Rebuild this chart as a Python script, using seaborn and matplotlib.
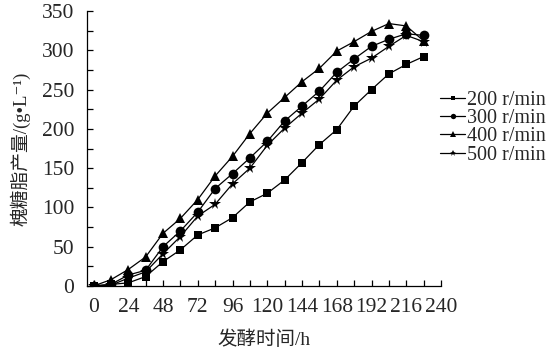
import matplotlib

matplotlib.use("Agg")
import matplotlib.pyplot as plt
import numpy as np
import pandas as pd
import seaborn as sns

# fermentation time (h)
hours = [0, 12, 24, 36, 48, 60, 72, 84, 96, 108, 120, 132, 144, 156, 168, 180, 192, 204, 216, 228]

# sophorolipid yield (g/L) at each agitation speed
yield_200 = [0, 2, 4, 12, 31, 46, 65, 74, 87, 107, 118, 135, 157, 180, 199, 229, 250, 270, 282, 292]
yield_300 = [0, 2, 14, 20, 50, 70, 94, 124, 143, 163, 184, 210, 229, 248, 272, 289, 305, 314, 321, 319]
yield_400 = [0, 8, 21, 37, 67, 86, 110, 140, 165, 194, 220, 240, 260, 277, 299, 311, 324, 334, 331, 312]
yield_500 = [0, 1, 10, 18, 41, 63, 89, 104, 130, 150, 179, 201, 220, 238, 262, 279, 290, 305, 319, 311]

speed_labels = ["200 r/min", "300 r/min", "400 r/min", "500 r/min"]
series = [yield_200, yield_300, yield_400, yield_500]

x_ticks = list(range(0, 241, 24))
y_ticks = list(range(0, 351, 50))

df = pd.concat(
    [pd.DataFrame({"time": hours, "yield": vals, "speed": lab}) for lab, vals in zip(speed_labels, series)],
    ignore_index=True,
)

sns.set_style("ticks")
plt.rcParams["font.family"] = ["Liberation Serif", "Noto Sans CJK SC", "DejaVu Serif"]
plt.rcParams["axes.unicode_minus"] = False

fig = plt.figure(figsize=(5.59, 3.57), dpi=100)
ax = fig.add_axes([87 / 559, 71 / 357, 354 / 559, 275 / 357])

markers = {"200 r/min": "s", "300 r/min": "o", "400 r/min": "^", "500 r/min": "*"}
sizes = {"200 r/min": 6, "300 r/min": 7, "400 r/min": 7, "500 r/min": 8.5}

for lab in speed_labels:
    sub = df[df["speed"] == lab]
    sns.lineplot(
        data=sub,
        x="time",
        y="yield",
        ax=ax,
        color="black",
        linewidth=0.9,
        marker=markers[lab],
        markersize=sizes[lab],
        markeredgewidth=0,
        label=lab,
    )

ax.set_xlim(-4.5, 240)
ax.set_ylim(0, 350)
ax.set_xticks(x_ticks)
ax.set_xticks(list(range(0, 241, 12)), minor=True)
ax.set_yticks(y_ticks)
ax.set_yticks(list(range(0, 351, 25)), minor=True)
ax.tick_params(which="both", direction="in", length=4, width=0.9, labelsize=15.5, color="black")
ax.tick_params(axis="x", pad=8.5)
ax.tick_params(axis="y", pad=9)
for side in ["top", "right"]:
    ax.spines[side].set_visible(False)
for side in ["left", "bottom"]:
    ax.spines[side].set_linewidth(0.9)
    ax.spines[side].set_color("black")

ax.set_xlabel("发酵时间/h", fontsize=14, labelpad=10)
ax.set_ylabel("槐糖脂产量/(g•L⁻¹)", fontsize=13.5, labelpad=8)

ax.legend(
    loc="center left",
    bbox_to_anchor=(0.975, 0.575),
    frameon=False,
    fontsize=14.5,
    handlelength=1.25,
    handletextpad=0.1,
    labelspacing=-0.05,
    markerscale=0.55,
    borderaxespad=0,
)

fig.savefig("out.png", dpi=100)
plt.close(fig)
